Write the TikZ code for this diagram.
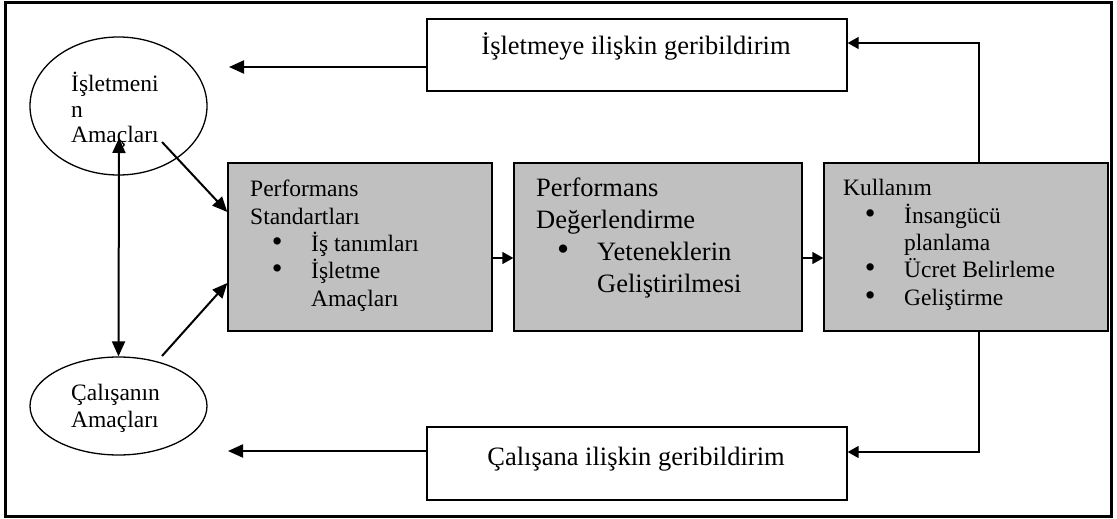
\documentclass[tikz,border=0pt]{standalone}
\usepackage{fontspec}
\setmainfont{Liberation Serif}
\usetikzlibrary{arrows.meta,shapes.geometric,calc}
\definecolor{boxgray}{RGB}{192,192,192}
\newcommand\smalltxt{\fontsize{23.5bp}{27.3bp}\selectfont}
\newcommand\bigtxt{\fontsize{26.5bp}{31.7bp}\selectfont}
\newcommand\bl{\hspace*{27bp}\makebox[0pt][c]{\smash{\scalebox{1.3}{\textbullet}}}\hspace*{34bp}}
\newcommand\ind{\hspace*{61bp}}
\tikzset{
  gbox/.style={draw, line width=1.3bp, fill=boxgray, inner sep=0pt, rectangle},
  wbox/.style={draw, line width=1.3bp, fill=white, inner sep=0pt, rectangle},
  oval/.style={draw, ellipse, line width=1.3bp, inner sep=0pt},
  txt/.style={inner sep=0pt, anchor=base west},
  ctxt/.style={inner sep=0pt, anchor=base},
  bigarrow/.style={line width=2bp, -{Triangle[length=15bp,width=13bp]}},
  bothbig/.style={line width=2bp, {Triangle[length=15bp,width=13bp]}-{Triangle[length=15bp,width=13bp]}},
  smallarrow/.style={line width=1.3bp, -{Triangle[length=11bp,width=12bp]}},
}
\begin{document}
\begin{tikzpicture}[x=1bp,y=-1bp]
\useasboundingbox (0,0) rectangle (1117,519);
\draw[line width=3bp] (5,3) rectangle (1111,516);

% boxes
\node[gbox, minimum width=264bp, minimum height=168bp] (b1) at (360,247) {};
\node[gbox, minimum width=288bp, minimum height=168bp] (b2) at (658,247) {};
\node[gbox, minimum width=284bp, minimum height=168bp] (b3) at (966,247) {};
\node[wbox, minimum width=420bp, minimum height=72bp] (fb1) at (637,55) {};
\node[wbox, minimum width=420bp, minimum height=73bp] (fb2) at (637,463.5) {};
\node[oval, minimum width=177bp, minimum height=138bp] (e1) at (118.5,106) {};
\node[oval, minimum width=177bp, minimum height=98bp] (e2) at (118.5,406) {};

% texts
\node[txt] (t1) at (250,197) {\parbox[t]{240bp}{\smalltxt\raggedright Performans\\ Standartları\\ \bl İş tanımları\\ \bl İşletme\\ \ind Amaçları}};
\node[txt] (t2) at (536,197) {\parbox[t]{260bp}{\bigtxt\raggedright Performans\\ Değerlendirme\\ \bl Yeteneklerin\\ \ind Geliştirilmesi}};
\node[txt] (t3) at (843,196) {\parbox[t]{260bp}{\smalltxt\raggedright Kullanım\\ \bl İnsangücü\\ \ind planlama\\ \bl Ücret Belirleme\\ \bl Geliştirme}};
\node[txt] (te1) at (71,92) {\parbox[t]{130bp}{\fontsize{23.5bp}{25.5bp}\selectfont\raggedright İşletmeni\\ n\\ Amaçları}};
\node[txt] (te2) at (71,400) {\parbox[t]{130bp}{\smalltxt\raggedright Çalışanın\\ Amaçları}};
\node[ctxt] (tf1) at (636,55) {\bigtxt İşletmeye ilişkin geribildirim};
\node[ctxt] (tf2) at (636,465) {\bigtxt Çalışana ilişkin geribildirim};

% connectors
\coordinate (a1) at (229,67);
\draw[bigarrow] (fb1.west |- a1) -- (a1);
\coordinate (a2) at (228,451);
\draw[bigarrow] (fb2.west |- a2) -- (a2);
\coordinate (v1) at (119,138);
\draw[bothbig] (v1) -- (e2.north);
\coordinate (d1) at (162,142);
\draw[bigarrow] (d1) -- ([yshift=35bp]b1.west);
\coordinate (d2) at (162,356);
\draw[bigarrow] (d2) -- ([yshift=-36bp]b1.west);
\draw[smallarrow] ([yshift=-11bp]b1.east) -- ([yshift=-11bp]b2.west);
\draw[smallarrow] ([yshift=-11bp]b2.east) -- ([yshift=-11bp]b3.west);
\draw[smallarrow] ([xshift=13bp]b3.north) |- ([yshift=12bp]fb1.east);
\draw[smallarrow] ([xshift=13bp]b3.south) |- ([yshift=11.5bp]fb2.east);
\end{tikzpicture}
\end{document}
